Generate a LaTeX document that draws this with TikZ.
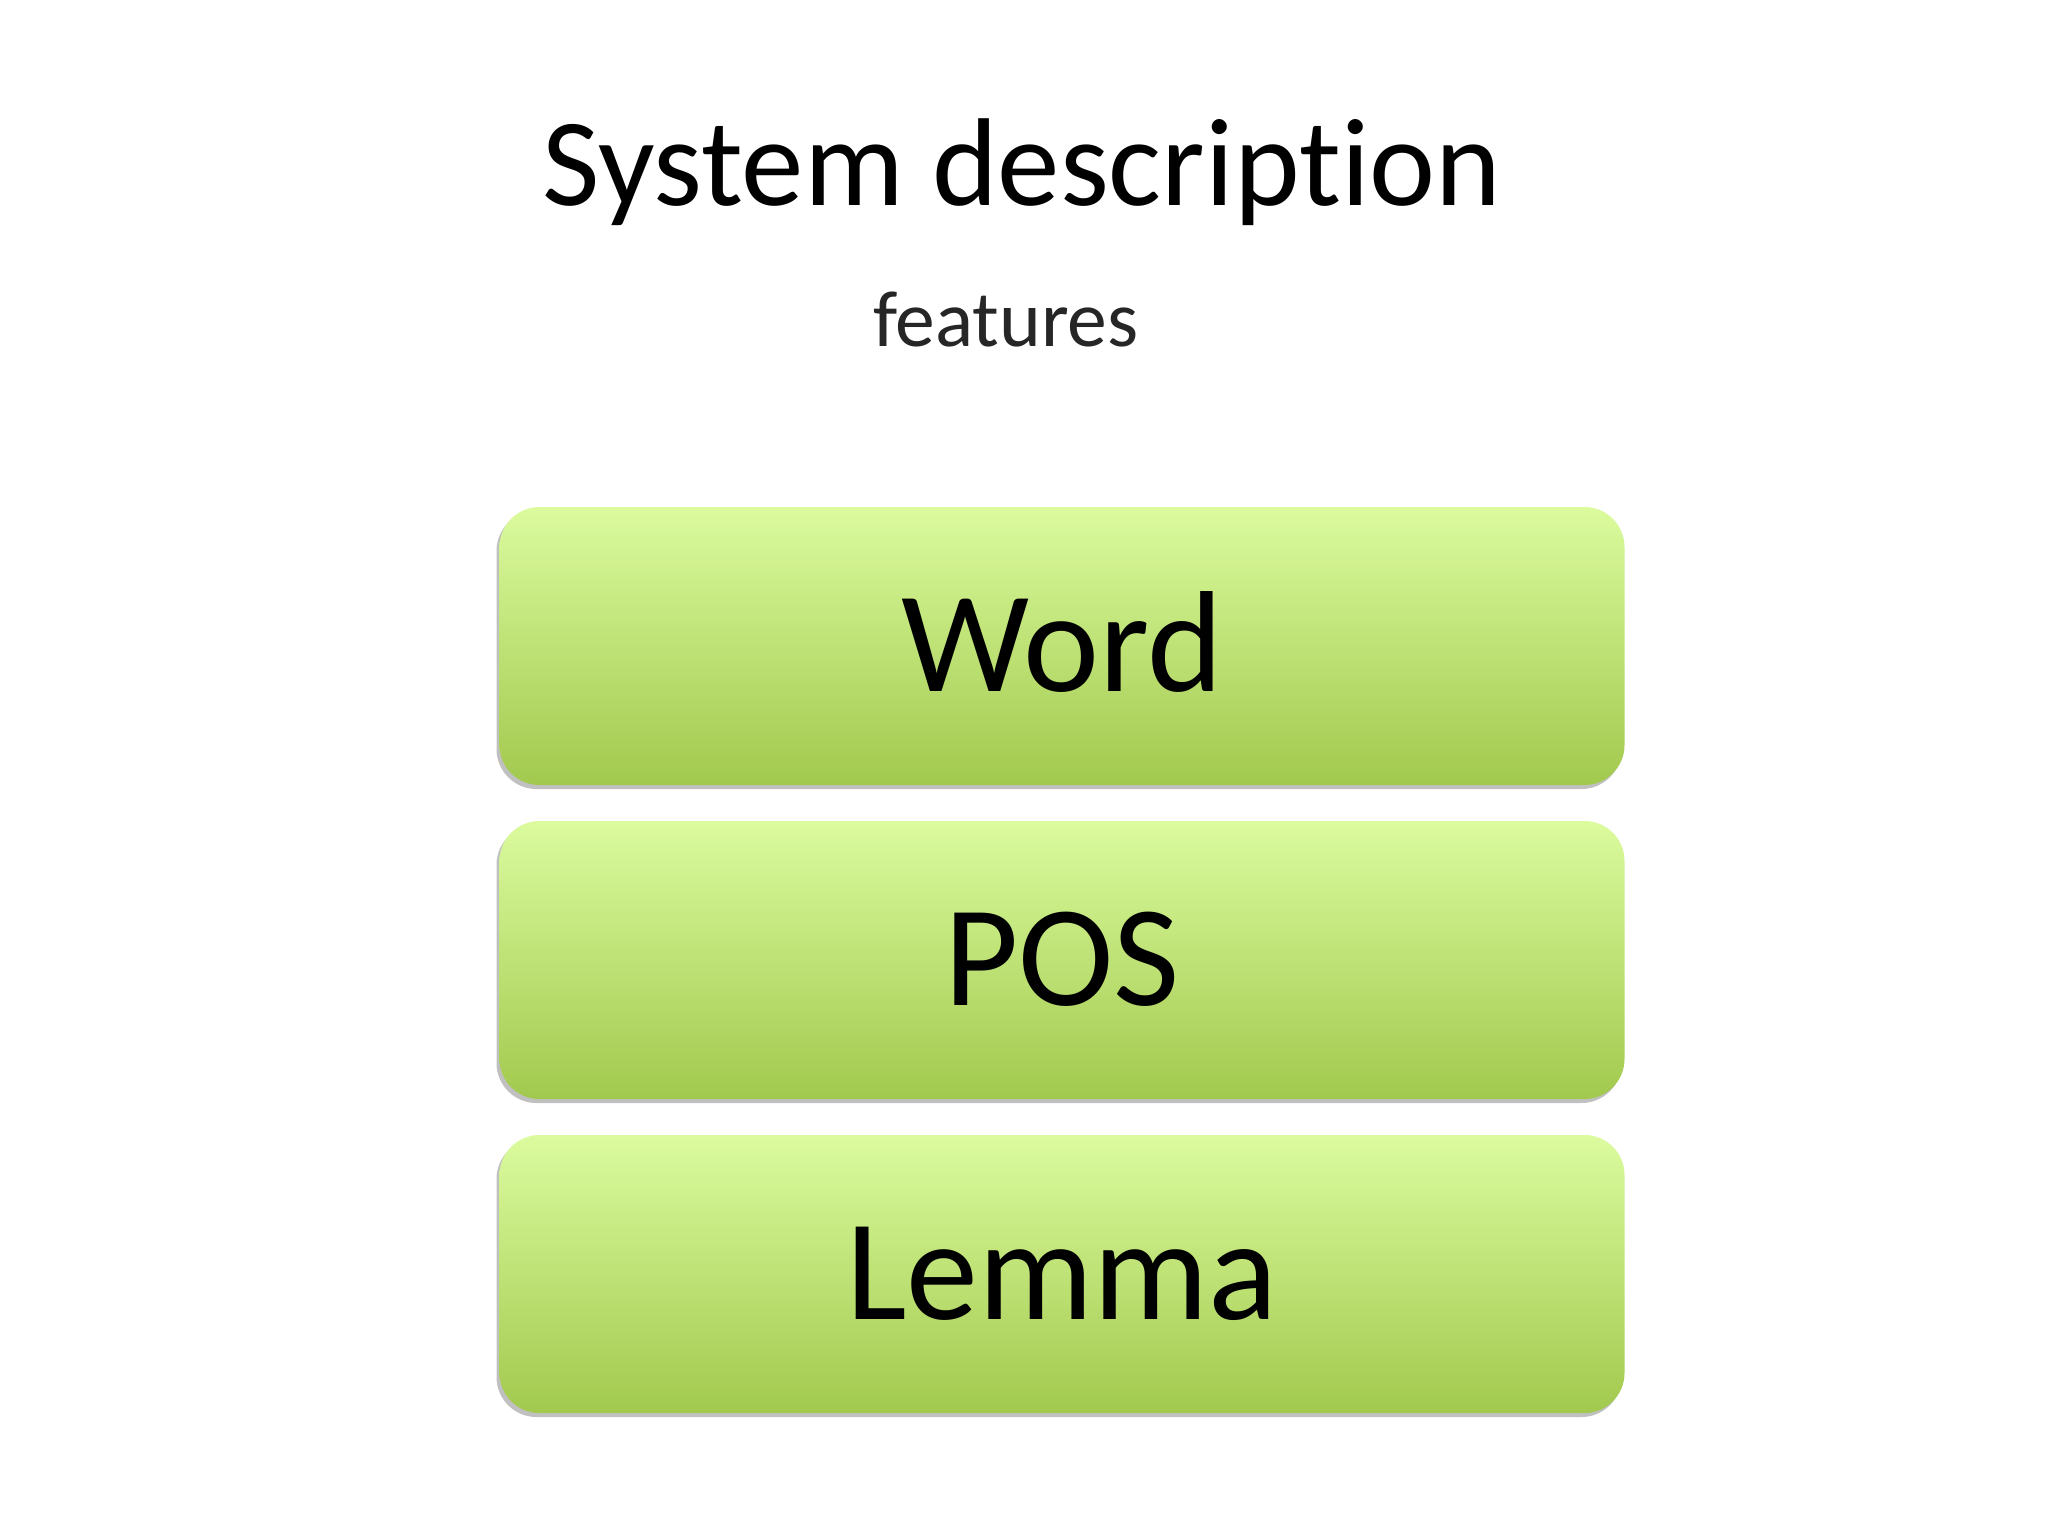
\documentclass[tikz,border=0pt]{standalone}
\usepackage{fontspec}
\setmainfont{Carlito}[Ligatures={NoCommon}]
\usetikzlibrary{shadows}
\definecolor{boxtop}{HTML}{DBFB9E}
\definecolor{boxbot}{HTML}{A2C94E}
\definecolor{subgray}{HTML}{262626}
\tikzset{
  featbox/.style={rounded corners=20pt, minimum width=562.5pt, minimum height=139pt,
    top color=boxtop, bottom color=boxbot, draw=none,
    drop shadow={shadow xshift=-1.5pt, shadow yshift=-2pt, fill=black!35, opacity=0.7},
    font=\fontsize{72}{80}\selectfont, text height=45.7pt, text depth=0pt, inner sep=0pt},
}
\begin{document}
\begin{tikzpicture}[x=0.5pt,y=-0.5pt]
\useasboundingbox[fill=white] (0,0) rectangle (2048,1536);
\node[anchor=base, font=\fontsize{62.5}{68}\selectfont] (title) at (1022,205) {System description};
\node[anchor=base, text=subgray, font=\fontsize{39.8}{44}\selectfont] (sub) at (1006,346) {features};
\node[featbox] (word) at (1062,646) {Word};
\node[featbox] (pos) at (1062,960) {POS};
\node[featbox] (lemma) at (1062,1274) {Lemma};
\end{tikzpicture}
\end{document}
